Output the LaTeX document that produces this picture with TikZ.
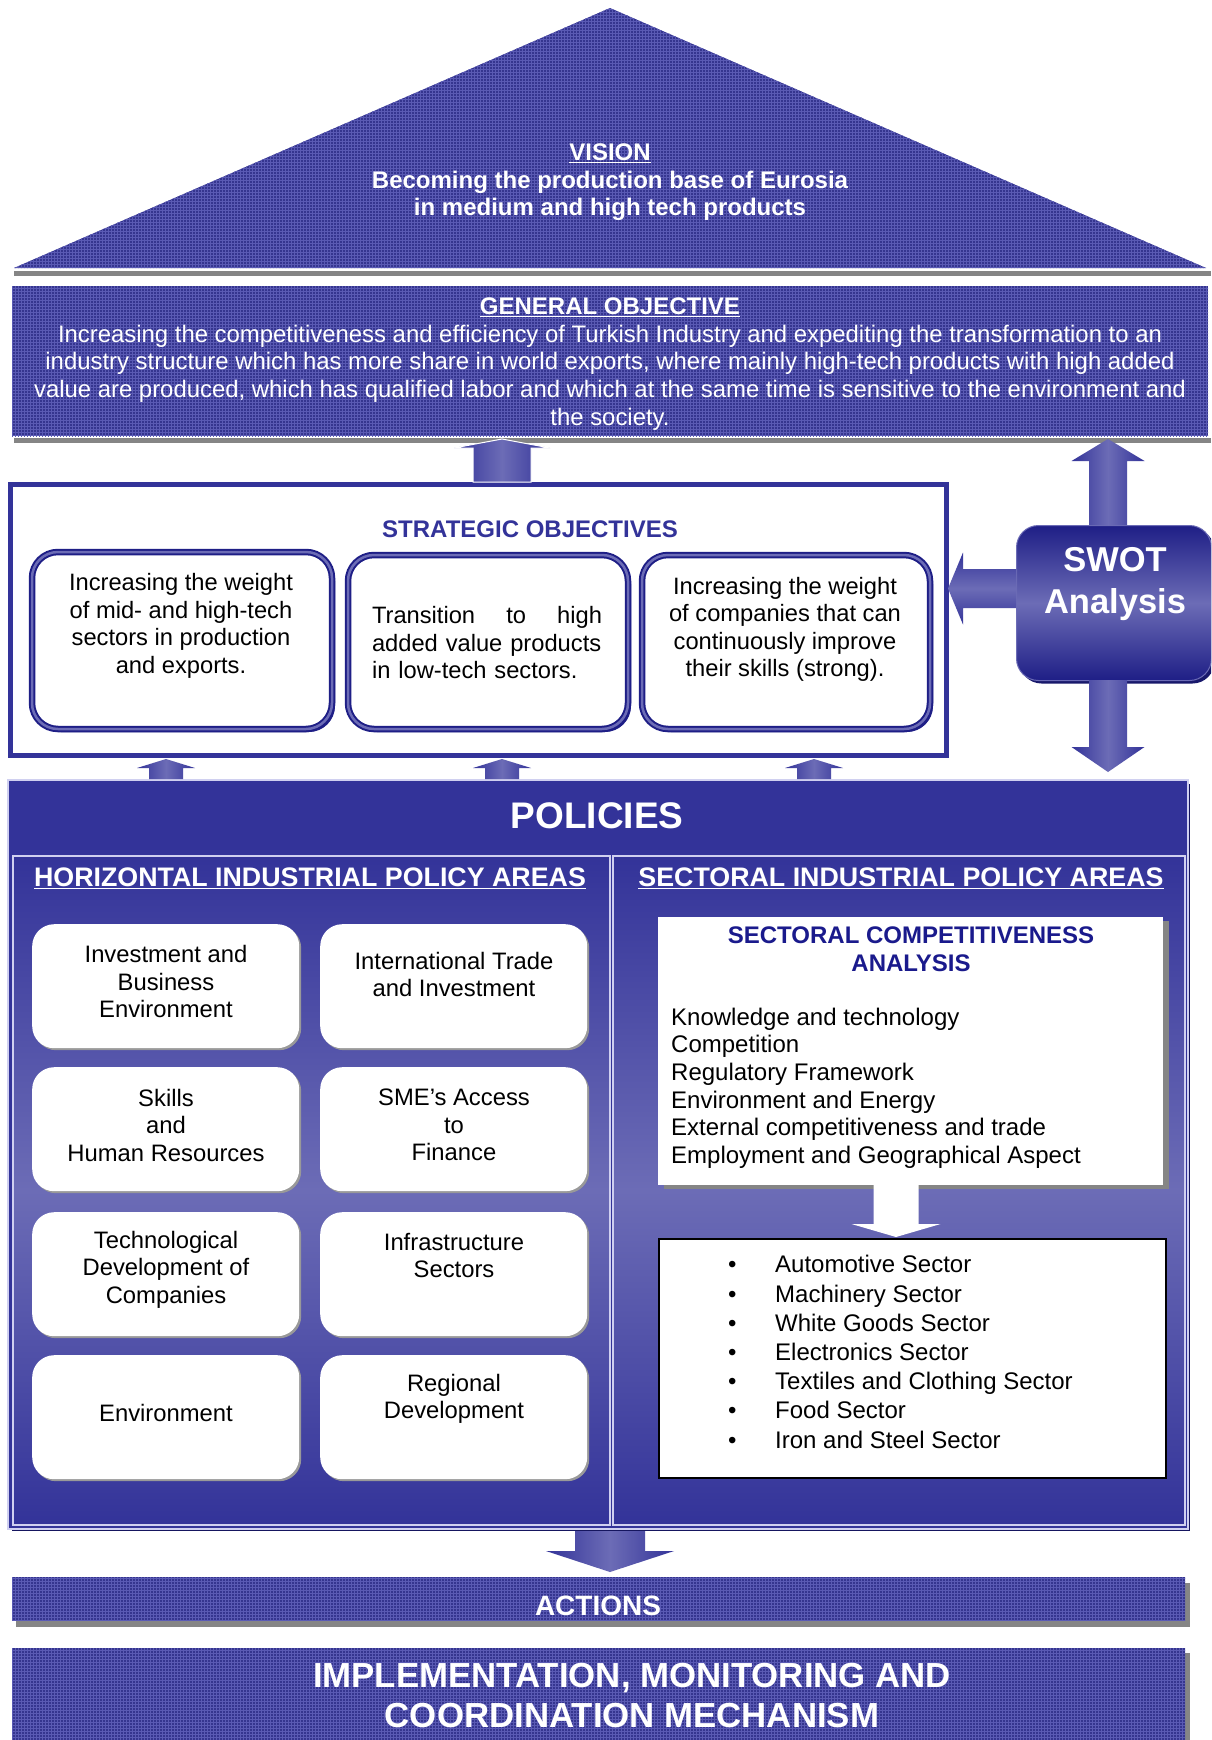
\documentclass[tikz,border=0pt]{standalone}
\usepackage{fontspec}
\setmainfont{Liberation Sans}
\usetikzlibrary{calc,shadows,patterns}
\definecolor{navy}{HTML}{333399}
\definecolor{band}{HTML}{35358F}
\definecolor{gridc}{HTML}{5A5AB4}
\definecolor{lightnavy}{HTML}{6C6CB6}
\definecolor{darknavy}{HTML}{1E1E86}
\definecolor{shadowgray}{HTML}{858585}
\definecolor{titleblue}{HTML}{1A1A8C}
\definecolor{paneledge}{HTML}{D0D0F0}
\newcommand\fs[2]{\fontsize{#1}{#2}\selectfont}
% #1 style, #2 tail, #3 tip, #4 shaft half width, #5 head half width, #6 head length
\newcommand\blockarrow[6]{%
  \coordinate (tmpH) at ($(#3)!#6!(#2)$);
  \path[#1] ($(#2)!#4!90:(#3)$) -- ($(tmpH)!#4!90:(#3)$) -- ($(tmpH)!#5!90:(#3)$) -- (#3)
    -- ($(tmpH)!#5!-90:(#3)$) -- ($(tmpH)!#4!-90:(#3)$) -- ($(#2)!#4!-90:(#3)$) -- cycle;}
\tikzset{
  varrow/.style={left color=navy, right color=navy, middle color=lightnavy},
  harrow/.style={top color=navy, bottom color=navy, middle color=lightnavy},
  sobox/.style={draw=darknavy, double=lightnavy, double distance=2.5pt, line width=2pt,
    rounded corners=26pt, fill=white, inner sep=0pt,
    drop shadow={shadow xshift=3pt, shadow yshift=-3pt, fill=darknavy, opacity=1}},
  hbox/.style={fill=white, rounded corners=22pt, minimum width=267pt, minimum height=124pt,
    anchor=north west, inner sep=0pt,
    drop shadow={shadow xshift=2pt, shadow yshift=-2pt, fill=gray!80, opacity=1}},
  htext/.style={font=\fs{23.8}{27.5}, align=center},
  sotext/.style={font=\fs{23.7}{27.5}, align=center},
  panel/.style={draw=paneledge, line width=1.5pt, top color=navy, bottom color=navy,
    middle color=lightnavy, anchor=north west, inner sep=0pt},
  textured/.style={fill=band, postaction={pattern=grid, pattern color=gridc}},
  bandbox/.style={textured, anchor=north west, inner sep=0pt},
}
\begin{document}
\begin{tikzpicture}[x=1pt,y=-1pt]
\useasboundingbox (0,0) rectangle (1211,1740);
\clip (0,0) rectangle (1211,1740);
\fill[white] (0,0) rectangle (1211,1740);

% ---------- Vision ----------
\path[textured] (14,268) -- (610,8) -- (1206,268) -- cycle;
\fill[shadowgray] (14,271) rectangle (1211,276);
\node[text=white, font=\fs{24}{27.5}\bfseries, align=center] (vision) at (610,182.5)
  {\underline{VISION}\\Becoming the production base of Eurosia\\in medium and high tech products};

% ---------- General objective ----------
\fill[shadowgray] (14,438) rectangle (1211,443);
\node[bandbox, minimum width=1196pt, minimum height=150pt] (go) at (12,286) {};
\node[text=white, font=\fs{23.9}{27.8}, align=center] (gotxt) at (610,364)
  {{\bfseries\fs{24}{27.8}\underline{GENERAL OBJECTIVE}}\\
   Increasing the competitiveness and efficiency of Turkish Industry and expediting the transformation to an\\
   industry structure which has more share in world exports, where mainly high-tech products with high added\\
   value are produced, which has qualified labor and which at the same time is sensitive to the environment and\\
   the society.};

% ---------- Strategic objectives ----------
\fill[darknavy] (12,486) rectangle (948,757);
\node[draw=navy, line width=4.5pt, fill=white, minimum width=936pt, minimum height=271pt,
  anchor=north west, inner sep=0pt] (strat) at (8,482) {};
\node[text=navy, font=\fs{24}{28}\bfseries] (sotitle) at (530,529) {STRATEGIC OBJECTIVES};

\node[sobox, minimum width=300pt, minimum height=177pt] (so1) at (182,640.5) {};
\node[sobox, minimum width=280pt, minimum height=174pt] (so2) at (488,642) {};
\node[sobox, minimum width=288pt, minimum height=174pt] (so3) at (786,642) {};
\node[sotext] (so1t) at (181,626) {Increasing the weight\\of mid- and high-tech\\sectors in production\\and exports.};
\node[font=\fs{23.7}{27.5}, text width=230pt, align=left, inner sep=0pt] (so2t) at (487,643)
  {\makebox[230pt][s]{Transition\hfill to\hfill high}\\added value products\\in low-tech sectors.};
\node[sotext] (so3t) at (785,629.5) {Increasing the weight\\of companies that can\\continuously improve\\their skills (strong).};

% ---------- SWOT ----------
\node[rounded corners=22pt, minimum width=195pt, minimum height=155pt, anchor=north west,
  top color=darknavy, bottom color=darknavy, middle color=lightnavy, draw=lightnavy, line width=1pt,
  drop shadow={shadow xshift=3pt, shadow yshift=-3pt, fill=darknavy!80!black, opacity=1}] (swot) at (1016,525) {};
\node[text=white, font=\fs{34.5}{42}\bfseries, align=center] (swott) at (1115,584) {SWOT\\Analysis};

% ---------- Policies ----------
\fill[darknavy!70!black] (12,784) rectangle (1190,1531);
\node[fill=navy, draw=paneledge, line width=1.5pt, anchor=north west, inner sep=0pt,
  minimum width=1180pt, minimum height=749pt] (pol) at (7,779) {};
\node[text=white, font=\fs{37}{40}\bfseries] (poltitle) at (597,816) {POLICIES};
\node[panel, minimum width=597pt, minimum height=669pt] (hpanel) at (12,855) {};
\node[panel, minimum width=572pt, minimum height=669pt] (spanel) at (612,855) {};
\node[text=white, font=\fs{26.8}{30}\bfseries] (htitle) at (310,878) {\underline{HORIZONTAL INDUSTRIAL POLICY AREAS}};
\node[text=white, font=\fs{26.8}{30}\bfseries] (stitle) at (901,878) {\underline{SECTORAL INDUSTRIAL POLICY AREAS}};

% horizontal policy boxes
\node[hbox] (h1) at (32,924) {};
\node[hbox] (h2) at (320,924) {};
\node[hbox] (h3) at (32,1067) {};
\node[hbox] (h4) at (320,1067) {};
\node[hbox] (h5) at (32,1212) {};
\node[hbox] (h6) at (320,1212) {};
\node[hbox] (h7) at (32,1355) {};
\node[hbox] (h8) at (320,1355) {};
\node[htext] (h1t) at (166,981.5) {Investment and\\Business\\Environment};
\node[htext] (h2t) at (454,974.5) {International Trade\\and Investment};
\node[htext] (h3t) at (166,1125) {Skills\\and\\Human Resources};
\node[htext] (h4t) at (454,1125) {SME’s Access\\to\\Finance};
\node[htext] (h5t) at (166,1269.5) {Technological\\Development of\\Companies};
\node[htext] (h6t) at (454,1255.5) {Infrastructure\\Sectors};
\node[htext] (h7t) at (166,1413) {Environment};
\node[htext] (h8t) at (454,1399) {Regional\\Development};

% sectoral side
\node[fill=white, minimum width=505pt, minimum height=268pt, anchor=north west, inner sep=0pt,
  drop shadow={shadow xshift=6pt, shadow yshift=-4pt, fill=shadowgray, opacity=1}] (sca) at (658,917) {};
\node[text=titleblue, font=\fs{24}{28}\bfseries, align=center] (scat) at (911,949) {SECTORAL COMPETITIVENESS\\ANALYSIS};
\node[font=\fs{24}{27.6}, align=left, anchor=west, inner sep=0pt] (scai) at (671,1088)
  {Knowledge and technology\\Competition\\Regulatory Framework\\Environment and Energy\\External competitiveness and trade\\Employment and Geographical Aspect};
\node[draw=black, line width=2pt, fill=white, minimum width=507pt, minimum height=239pt,
  anchor=north west, inner sep=0pt] (list) at (658,1238) {};
\node[font=\fs{24}{29.2}, align=left, anchor=west, inner sep=0pt] (listi) at (728,1352)
  {\makebox[47pt][l]{•}Automotive Sector\\\makebox[47pt][l]{•}Machinery Sector\\\makebox[47pt][l]{•}White Goods Sector\\\makebox[47pt][l]{•}Electronics Sector\\\makebox[47pt][l]{•}Textiles and Clothing Sector\\\makebox[47pt][l]{•}Food Sector\\\makebox[47pt][l]{•}Iron and Steel Sector};

% ---------- Actions & implementation ----------
\fill[shadowgray] (16,1583) rectangle (1190,1627);
\node[bandbox, minimum width=1173pt, minimum height=43pt] (act) at (12,1577) {};
\node[text=white, font=\fs{28}{30}\bfseries] (actt) at (598,1606) {ACTIONS};
\fill[shadowgray] (16,1653) rectangle (1190,1745);
\node[bandbox, minimum width=1173pt, minimum height=100pt] (impl) at (12,1648) {};
\node[text=white, font=\fs{34.8}{40}\bfseries, align=center] (implt) at (632,1695)
  {IMPLEMENTATION, MONITORING AND\\COORDINATION MECHANISM};

% ---------- Block arrows ----------
\coordinate (a0t) at (502,482); \coordinate (a0h) at (502,439);
\blockarrow{varrow, draw=white, line width=1pt}{a0t}{a0h}{29pt}{48pt}{9pt}
\coordinate (swu0) at (1108,525); \coordinate (swu1) at (1108,439);
\blockarrow{varrow}{swu0}{swu1}{19pt}{36.5pt}{22pt}
\coordinate (swd0) at (1108,680); \coordinate (swd1) at (1108,772);
\blockarrow{varrow}{swd0}{swd1}{19pt}{36.5pt}{25pt}
\coordinate (swl0) at (1016,588.5); \coordinate (swl1) at (948,588.5);
\blockarrow{harrow}{swl0}{swl1}{19.5pt}{36pt}{15pt}
\coordinate (p1t) at (166,779); \coordinate (p1h) at (166,759);
\blockarrow{varrow}{p1t}{p1h}{17pt}{29pt}{9pt}
\coordinate (p2t) at (502,779); \coordinate (p2h) at (502,759);
\blockarrow{varrow}{p2t}{p2h}{17pt}{29pt}{9pt}
\coordinate (p3t) at (814,779); \coordinate (p3h) at (814,759);
\blockarrow{varrow}{p3t}{p3h}{17pt}{29pt}{9pt}
\coordinate (pa0) at (610,1531); \coordinate (pa1) at (610,1572);
\blockarrow{varrow}{pa0}{pa1}{35pt}{64pt}{21pt}
\coordinate (wa0) at (896,1185); \coordinate (wa1) at (896,1237);
\blockarrow{fill=white}{wa0}{wa1}{22.5pt}{44.5pt}{13pt}
\end{tikzpicture}
\end{document}
